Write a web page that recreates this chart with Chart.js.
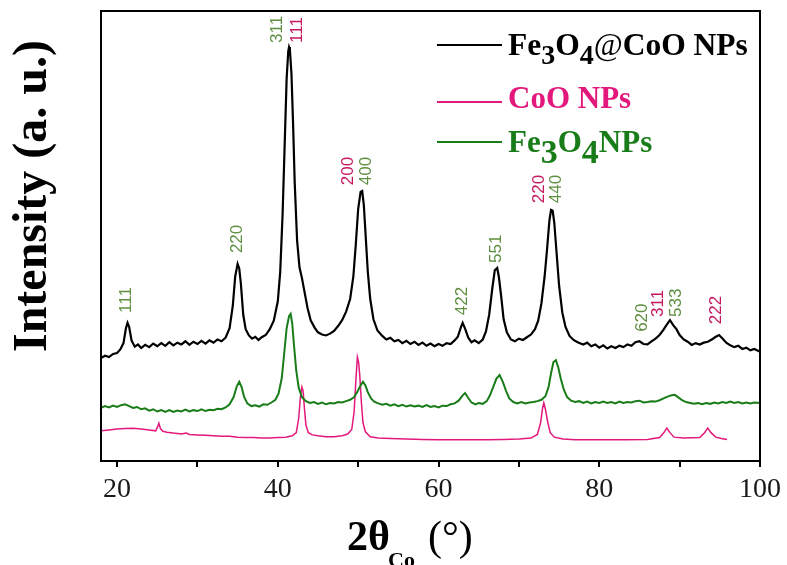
<!DOCTYPE html>
<html lang="en">
<head>
<meta charset="UTF-8">
<title>XRD patterns</title>
<style>
  body { margin: 0; background: #fff; }
</style>
<script src="https://cdn.jsdelivr.net/npm/chart.js@4"></script>
</head>
<body>
<canvas id="xrd" width="787" height="565"></canvas>
<script>
// [2theta, intensity (a.u.)]
const coreShell = [
  [18,22.9],[18.5,23.4],[19,23.1],[19.5,23.8],[20,24.0],[20.4,24.8],[20.8,26.2],[21.1,29.5],[21.3,30.7],[21.5,29.8],
  [21.8,26.8],[22.2,25.4],[22.6,25.9],[23,25.1],[23.5,25.8],[24,25.3],[24.5,26.1],[25,25.5],[25.5,26.2],[26,25.6],
  [26.5,26.4],[27,25.7],[27.5,26.3],[28,25.9],[28.5,26.6],[29,25.8],[29.5,26.5],[30,26.0],[30.5,26.7],[31,26.1],
  [31.5,26.8],[32,26.3],[32.5,27.0],[33,26.6],[33.5,27.4],[34,29.5],[34.4,34.5],[34.7,41.0],[35.0,43.8],[35.2,42.8],
  [35.4,39.5],[35.7,32.5],[36,29.3],[36.4,27.9],[36.8,27.2],[37.2,27.6],[37.6,26.9],[38,27.5],[38.5,28.0],[39,29.3],
  [39.5,31.2],[40,35.5],[40.3,42.0],[40.6,55.0],[40.9,73.0],[41.1,85.0],[41.3,91.0],[41.4,92.0],[41.5,91.5],[41.7,86.0],
  [41.9,75.0],[42.1,62.0],[42.4,49.0],[42.7,43.0],[43.0,40.7],[43.3,37.8],[43.7,34.0],[44.1,31.2],[44.6,29.6],[45,28.6],
  [45.5,28.1],[46,27.9],[46.5,28.3],[47,28.9],[47.5,30.0],[48,31.3],[48.5,33.2],[49,36.0],[49.4,41.0],[49.7,48.0],
  [50.0,56.0],[50.3,59.8],[50.5,60.0],[50.7,57.0],[50.9,51.0],[51.2,42.0],[51.5,36.0],[51.9,31.5],[52.4,29.0],[53,27.8],
  [53.5,27.0],[54,27.4],[54.5,26.6],[55,26.9],[55.5,26.2],[56,26.7],[56.5,26.0],[57,26.5],[57.5,25.8],[58,26.3],
  [58.5,25.6],[59,26.1],[59.5,25.5],[60,26.0],[60.5,25.6],[61,26.2],[61.5,26.0],[62,26.8],[62.4,27.6],[62.8,29.8],
  [63.0,30.7],[63.3,29.4],[63.7,27.4],[64.1,26.4],[64.5,26.8],[65,26.2],[65.5,27.0],[65.9,28.8],[66.3,32.5],[66.7,38.5],
  [67.0,42.4],[67.3,42.9],[67.5,41.0],[67.8,36.5],[68.1,31.5],[68.5,28.6],[69,27.0],[69.5,26.6],[70,27.2],[70.5,26.9],
  [71,27.5],[71.5,28.1],[72,29.3],[72.4,31.2],[72.8,35.0],[73.2,41.0],[73.5,47.0],[73.8,53.5],[74.0,55.8],[74.2,55.6],
  [74.4,53.0],[74.7,46.0],[75.0,39.0],[75.4,33.0],[75.8,29.8],[76.3,27.8],[76.8,26.9],[77.3,26.4],[78,25.9],[78.5,26.3],
  [79,25.5],[79.5,25.9],[80,25.2],[80.5,25.7],[81,25.0],[81.5,25.5],[82,25.1],[82.5,25.6],[83,25.3],[83.5,25.9],
  [84,25.6],[84.5,26.4],[85,26.6],[85.5,26.0],[86,25.9],[86.5,26.6],[87,27.2],[87.5,28.0],[88,29.2],[88.4,30.3],
  [88.8,31.3],[89.2,30.2],[89.6,29.3],[90,28.0],[90.5,27.0],[91,26.5],[91.5,25.8],[92,26.2],[92.5,25.9],[93,26.3],
  [93.5,26.5],[94,27.0],[94.5,27.6],[94.9,28.0],[95.3,27.3],[95.8,26.3],[96.3,25.7],[96.8,25.3],[97.3,25.6],[97.8,24.9],
  [98.3,25.2],[98.8,24.6],[99.3,24.9],[100,24.3]
];

const magnetite = [
  [18,11.8],[18.5,12.2],[19,11.9],[19.5,12.3],[20,12.0],[20.5,12.4],[21,12.6],[21.5,12.2],[22,11.8],[22.5,12.0],
  [23,11.5],[23.5,11.7],[24,11.2],[24.5,11.5],[25,11.0],[25.5,11.3],[26,10.9],[26.5,11.3],[27,10.9],[27.5,11.2],
  [28,11.0],[28.5,11.4],[29,11.0],[29.5,11.3],[30,11.1],[30.5,11.5],[31,11.1],[31.5,11.4],[32,11.3],[32.5,11.6],
  [33,11.5],[33.5,11.9],[34,12.6],[34.5,14.2],[34.9,16.6],[35.2,17.6],[35.5,16.4],[35.8,14.3],[36.2,12.8],[36.7,12.2],
  [37.2,12.4],[37.7,12.1],[38.2,12.6],[38.7,12.5],[39.2,13.0],[39.7,13.6],[40.1,15.0],[40.5,18.5],[40.8,24.0],[41.1,29.5],
  [41.4,32.2],[41.6,32.7],[41.8,30.5],[42.0,26.0],[42.3,20.0],[42.6,16.3],[43.0,14.2],[43.5,13.3],[44,12.9],[44.5,13.1],
  [45,12.7],[45.5,13.0],[46,12.6],[46.5,12.9],[47,12.8],[47.5,13.1],[48,13.0],[48.5,13.3],[49,13.6],[49.5,14.2],
  [49.9,15.4],[50.3,16.8],[50.6,17.6],[50.9,16.8],[51.2,15.3],[51.6,13.9],[52,13.2],[52.5,12.8],[53,12.5],[53.5,12.7],
  [54,12.3],[54.5,12.6],[55,12.2],[55.5,12.5],[56,12.1],[56.5,12.4],[57,12.1],[57.5,12.3],[58,12.0],[58.5,12.4],
  [59,12.0],[59.5,12.2],[60,11.9],[60.5,12.3],[61,12.2],[61.5,12.6],[62,12.8],[62.5,13.4],[63.0,14.6],[63.3,15.1],
  [63.7,14.0],[64.1,13.0],[64.6,12.6],[65,12.9],[65.5,12.7],[66,13.3],[66.4,14.6],[66.8,16.4],[67.2,18.3],[67.6,19.1],
  [68.0,17.6],[68.4,15.6],[68.8,13.9],[69.3,13.1],[69.8,12.8],[70.3,13.1],[70.8,12.8],[71.3,13.0],[71.8,13.1],[72.3,13.3],
  [72.8,13.6],[73.3,14.4],[73.7,16.5],[74.0,19.5],[74.3,22.0],[74.6,22.4],[74.9,20.8],[75.2,18.4],[75.6,15.8],[76,14.2],
  [76.5,13.4],[77,13.1],[77.5,13.3],[78,12.9],[78.5,13.2],[79,12.8],[79.5,13.1],[80,12.9],[80.5,13.2],[81,12.9],
  [81.5,13.1],[82,12.8],[82.5,13.2],[83,12.9],[83.5,13.1],[84,13.0],[84.5,13.3],[85,13.4],[85.5,13.0],[86,13.1],
  [86.5,13.3],[87,13.2],[87.5,13.5],[88,13.9],[88.5,14.3],[89,14.6],[89.4,14.7],[89.8,14.2],[90.3,13.5],[90.8,13.1],
  [91.3,12.9],[91.8,12.7],[92.3,12.9],[92.8,12.6],[93.3,12.9],[93.8,12.7],[94.3,13.0],[94.8,12.8],[95.3,13.1],[95.8,12.9],
  [96.3,13.2],[96.8,12.9],[97.3,13.1],[97.8,12.8],[98.3,13.0],[98.8,12.8],[99.3,13.0],[100,12.9]
];

const cobaltOxide = [
  [18,6.7],[19,6.9],[20,7.1],[21,7.2],[22,7.3],[23,7.1],[24,6.9],[24.8,6.7],[25.0,7.4],[25.2,8.4],
  [25.4,7.2],[25.7,6.6],[26.2,6.4],[27,6.2],[28,6.0],[28.6,6.2],[29,5.9],[30,5.8],[31,5.7],[32,5.6],
  [33,5.5],[34,5.5],[35,5.3],[36,5.2],[37,5.2],[38,5.1],[39,5.1],[40,5.2],[41,5.3],[41.8,5.6],
  [42.3,6.3],[42.6,9.5],[42.8,14.0],[43.0,16.4],[43.15,15.5],[43.3,12.0],[43.5,8.0],[43.8,6.3],[44.3,5.8],[45,5.6],
  [46,5.4],[47,5.4],[48,5.6],[48.7,6.0],[49.2,7.0],[49.5,11.0],[49.7,17.5],[49.9,23.1],[50.05,22.0],[50.2,19.0],
  [50.4,13.0],[50.6,8.5],[50.9,6.5],[51.5,5.4],[52.5,5.1],[54,5.0],[56,4.9],[58,4.8],[60,4.7],[62,4.7],
  [64,4.7],[66,4.7],[68,4.8],[70,4.9],[71.5,5.1],[72.3,5.9],[72.7,8.5],[72.95,11.8],[73.1,12.9],[73.3,11.5],
  [73.6,8.5],[73.9,6.3],[74.4,5.3],[75.5,4.9],[77,4.7],[80,4.7],[83,4.7],[86,4.8],[87.5,5.2],[88.0,6.2],
  [88.4,7.3],[88.8,6.3],[89.3,5.3],[90.5,5.1],[92.5,5.2],[93.1,6.3],[93.5,7.3],[93.9,6.3],[94.5,5.3],[95.2,5.0],
  [95.9,4.8]
];

const xTicks = [20, 30, 40, 50, 60, 70, 80, 90, 100];

// reflection labels: hkl, 2theta, intensity where the label starts, phase
const peakNames = ['111', '220', '311', '111', '200', '400', '422', '551', '220', '440', '620', '311', '533', '222'];
const peakTheta = [21.1, 35.0, 39.9, 42.4, 48.8, 51.0, 63.0, 67.2, 72.6, 74.6, 85.3, 87.4, 89.6, 94.6];
const peakLevel = [32.9, 46.2, 92.9, 92.9, 61.3, 61.3, 32.4, 44.0, 57.3, 57.3, 28.7, 32.0, 32.0, 30.4];
const peakPhase = ['M', 'M', 'M', 'C', 'C', 'M', 'M', 'M', 'C', 'M', 'M', 'C', 'M', 'C'];

const BLACK = '#000000';
const PINK = '#e3187c';
const GREEN = '#187c18';
const LABEL_GREEN = '#5f8f40';
const LABEL_PINK = '#c4185f';

function toPoints(arr) {
  return arr.map(p => ({ x: p[0], y: p[1] }));
}

// draws text made of pieces, some of them lowered as subscripts
function drawPieces(ctx, pieces, x, y, color) {
  ctx.fillStyle = color;
  ctx.textAlign = 'left';
  ctx.textBaseline = 'alphabetic';
  pieces.forEach(p => {
    ctx.font = (p.weight || 'bold') + ' ' + p.size + 'px "Liberation Serif", "Times New Roman", serif';
    ctx.fillText(p.t, x, y + (p.dy || 0));
    x += ctx.measureText(p.t).width;
  });
}

const decor = {
  id: 'decor',
  afterDraw(chart) {
    const ctx = chart.ctx;
    const a = chart.chartArea;
    const xs = chart.scales.x, ys = chart.scales.y;
    ctx.save();

    // frame
    ctx.strokeStyle = '#000';
    ctx.lineWidth = 2;
    ctx.strokeRect(a.left, a.top, a.right - a.left, a.bottom - a.top);

    // hkl labels
    ctx.font = '17px "Liberation Sans", Arial, sans-serif';
    ctx.textAlign = 'left';
    ctx.textBaseline = 'middle';
    peakNames.forEach((name, i) => {
      const px = xs.getPixelForValue(peakTheta[i]);
      const py = ys.getPixelForValue(peakLevel[i]);
      ctx.save();
      ctx.translate(px, py);
      ctx.rotate(-Math.PI / 2);
      ctx.fillStyle = peakPhase[i] === 'C' ? LABEL_PINK : LABEL_GREEN;
      ctx.fillText(name, 0, 0);
      ctx.restore();
    });

    // legend
    const rows = [
      { y: 45, color: BLACK, base: 55, pieces: [
        { t: 'Fe', size: 31.5 }, { t: '3', size: 28, dy: 9 }, { t: 'O', size: 31.5 }, { t: '4', size: 28, dy: 9 },
        { t: '@', size: 31.5, weight: 'normal' }, { t: 'CoO NPs', size: 31.5 }] },
      { y: 102, color: PINK, base: 108, pieces: [{ t: 'CoO NPs', size: 31 }] },
      { y: 142, color: GREEN, base: 152, pieces: [
        { t: 'Fe', size: 31 }, { t: '3', size: 34, dy: 11 }, { t: 'O', size: 31 }, { t: '4', size: 34, dy: 11 },
        { t: 'NPs', size: 31 }] }
    ];
    rows.forEach(r => {
      ctx.strokeStyle = r.color;
      ctx.lineWidth = 1.8;
      ctx.beginPath();
      ctx.moveTo(437, r.y);
      ctx.lineTo(502, r.y);
      ctx.stroke();
      drawPieces(ctx, r.pieces, 508, r.base, r.color);
    });

    // x title
    drawPieces(ctx, [{ t: '2\u03b8', size: 42 }], 347, 550, '#000');
    drawPieces(ctx, [{ t: 'Co', size: 22 }], 388, 567, '#000');
    drawPieces(ctx, [{ t: '(\u00b0)', size: 42, weight: 'normal' }], 428, 550, '#000');

    // y title
    ctx.save();
    ctx.translate(46, 196);
    ctx.rotate(-Math.PI / 2);
    ctx.font = 'bold 48px "Liberation Serif", "Times New Roman", serif';
    ctx.textAlign = 'center';
    ctx.textBaseline = 'alphabetic';
    ctx.fillStyle = '#000';
    ctx.fillText('Intensity (a. u.)', 0, 0);
    ctx.restore();

    ctx.restore();
  }
};

const ctx = document.getElementById('xrd').getContext('2d');
new Chart(ctx, {
  type: 'line',
  data: {
    datasets: [
      { label: 'Fe3O4@CoO NPs', data: toPoints(coreShell), borderColor: BLACK, borderWidth: 2.2 },
      { label: 'Fe3O4NPs', data: toPoints(magnetite), borderColor: GREEN, borderWidth: 2 },
      { label: 'CoO NPs', data: toPoints(cobaltOxide), borderColor: PINK, borderWidth: 1.5 }
    ]
  },
  options: {
    responsive: false,
    animation: false,
    devicePixelRatio: 1,
    elements: { point: { radius: 0 }, line: { tension: 0 } },
    layout: { padding: { left: 101, top: 11, right: 26, bottom: 0 } },
    plugins: { legend: { display: false }, tooltip: { enabled: false } },
    scales: {
      x: {
        type: 'linear',
        min: 18,
        max: 100,
        afterBuildTicks: scale => { scale.ticks = xTicks.map(v => ({ value: v })); },
        afterFit: scale => { scale.height = 104; },
        border: { display: false },
        grid: { drawOnChartArea: false, drawTicks: true, tickLength: 6, color: '#000', lineWidth: 2 },
        ticks: {
          color: '#1a1a1a',
          padding: 6,
          maxRotation: 0,
          autoSkip: false,
          font: { family: '"Liberation Serif", "Times New Roman", serif', size: 28 },
          callback: v => (v % 20 === 0 ? v : '')
        }
      },
      y: { display: false, min: 0, max: 100 }
    }
  },
  plugins: [decor]
});
</script>
</body>
</html>
